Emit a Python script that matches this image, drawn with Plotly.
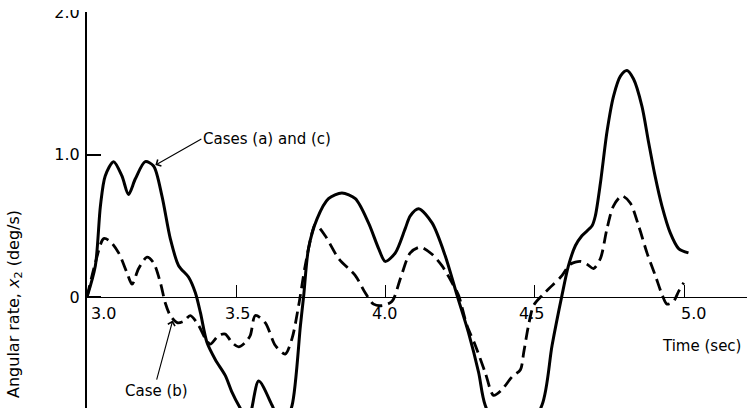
import plotly.graph_objects as go

# Angular rate responses, x2 (deg/s) versus time (sec)
time_ac = [3.000, 3.028, 3.045, 3.061, 3.089, 3.117, 3.139, 3.162, 3.195, 3.223,
           3.251, 3.279, 3.307, 3.340, 3.363, 3.380, 3.402, 3.430, 3.463, 3.486,
           3.508, 3.540, 3.575, 3.620, 3.655, 3.687, 3.715, 3.726, 3.742, 3.771,
           3.809, 3.854, 3.899, 3.943, 3.977, 3.999, 4.033, 4.066, 4.083, 4.111,
           4.156, 4.200, 4.240, 4.278, 4.312, 4.334, 4.420, 4.524, 4.558, 4.591,
           4.613, 4.636, 4.658, 4.692, 4.703, 4.720, 4.742, 4.764, 4.787, 4.809,
           4.831, 4.859, 4.881, 4.903, 4.926, 4.954, 4.982, 5.015]
rate_ac = [0.00, 0.22, 0.64, 0.85, 0.95, 0.85, 0.72, 0.83, 0.95, 0.92,
           0.71, 0.41, 0.22, 0.14, 0.03, -0.11, -0.32, -0.44, -0.55, -0.67,
           -0.76, -0.86, -0.59, -0.76, -0.92, -0.76, -0.20, 0.01, 0.34, 0.55,
           0.69, 0.73, 0.69, 0.52, 0.34, 0.25, 0.31, 0.48, 0.57, 0.62,
           0.52, 0.29, 0.01, -0.25, -0.53, -0.76, -1.10, -0.76, -0.34, 0.01,
           0.22, 0.36, 0.43, 0.50, 0.57, 0.80, 1.16, 1.41, 1.55, 1.59,
           1.53, 1.34, 1.09, 0.85, 0.64, 0.45, 0.34, 0.31]

time_b = [3.000, 3.028, 3.056, 3.078, 3.106, 3.134, 3.151, 3.173, 3.201, 3.223,
          3.246, 3.262, 3.279, 3.302, 3.324, 3.346, 3.374, 3.396, 3.413, 3.441,
          3.463, 3.486, 3.508, 3.530, 3.547, 3.564, 3.597, 3.631, 3.664, 3.687,
          3.709, 3.731, 3.754, 3.765, 3.798, 3.843, 3.899, 3.932, 3.960, 3.989,
          4.022, 4.050, 4.083, 4.117, 4.156, 4.189, 4.223, 4.245, 4.273, 4.301,
          4.334, 4.362, 4.390, 4.424, 4.452, 4.463, 4.479, 4.496, 4.524, 4.558,
          4.591, 4.619, 4.653, 4.675, 4.697, 4.720, 4.742, 4.764, 4.792, 4.820,
          4.848, 4.876, 4.904, 4.926, 4.943, 4.965, 4.982, 4.999]
rate_b = [0.00, 0.24, 0.41, 0.39, 0.31, 0.17, 0.09, 0.20, 0.28, 0.24,
          0.10, -0.04, -0.13, -0.18, -0.17, -0.13, -0.20, -0.29, -0.33, -0.27,
          -0.26, -0.32, -0.35, -0.32, -0.27, -0.13, -0.18, -0.34, -0.40, -0.29,
          -0.06, 0.22, 0.45, 0.51, 0.43, 0.27, 0.15, 0.03, -0.05, -0.06,
          -0.03, 0.13, 0.31, 0.35, 0.30, 0.22, 0.10, 0.01, -0.20, -0.34,
          -0.53, -0.69, -0.65, -0.56, -0.51, -0.39, -0.20, -0.06, 0.01, 0.08,
          0.15, 0.23, 0.25, 0.23, 0.20, 0.27, 0.48, 0.64, 0.71, 0.66,
          0.50, 0.31, 0.15, 0.02, -0.05, -0.03, 0.04, 0.10]

x_tick_vals = [3.0, 3.5, 4.0, 4.5, 5.0]
x_tick_text = ["3.0", "3.5", "4.0", "4.5", "5.0"]
y_tick_vals = [0, 1, 2]
y_tick_text = ["0", "1.0", "2.0"]

# Figure geometry
W, H = 747, 408
ML, MT = 87, 12
PW, PH = W - ML, H - MT
X_RANGE = [3.0, 3.0 + PW / 298.5]
Y_RANGE = [2.0 - PH / 142.5, 2.0005]

FONT = "DejaVu Sans"
INK = "black"


def px_to_paper_x(px):
    return (px - ML) / PW


def px_to_paper_y(py):
    return (H - py) / PH


fig = go.Figure()
fig.add_trace(go.Scatter(
    x=time_ac, y=rate_ac, mode="lines",
    line=dict(color=INK, width=3, shape="spline", smoothing=0.8),
    showlegend=False, hoverinfo="skip"))
fig.add_trace(go.Scatter(
    x=time_b, y=rate_b, mode="lines",
    line=dict(color=INK, width=2.8, dash="12px,6px", shape="spline", smoothing=0.8),
    showlegend=False, hoverinfo="skip"))

zero_pos = (0 - Y_RANGE[0]) / (Y_RANGE[1] - Y_RANGE[0])

fig.update_layout(
    width=W, height=H,
    margin=dict(l=ML, r=0, t=MT, b=0, pad=0),
    paper_bgcolor="white", plot_bgcolor="white",
    font=dict(family=FONT, color=INK, size=15),
    xaxis=dict(range=X_RANGE, anchor="free", position=zero_pos,
               showline=True, linecolor=INK, linewidth=1.3,
               ticks="inside", ticklen=12, tickwidth=1.3, tickcolor=INK,
               tickvals=x_tick_vals[1:], showticklabels=False,
               showgrid=False, zeroline=False, fixedrange=True),
    yaxis=dict(range=Y_RANGE, showline=True, linecolor=INK, linewidth=2,
               ticks="inside", ticklen=14, tickwidth=1.5, tickcolor=INK,
               tickvals=y_tick_vals, ticktext=y_tick_text,
               tickfont=dict(family=FONT, size=16, color=INK),
               ticklabelstandoff=2,
               showgrid=False, zeroline=False, fixedrange=True),
)

# x tick labels sit just below the zero line
x_label_shift = [16, 1, -1, -3, 9]
for v, t, dx in zip(x_tick_vals, x_tick_text, x_label_shift):
    fig.add_annotation(x=v, y=0, xref="x", yref="y", text=t, showarrow=False,
                       xshift=dx, yshift=-16, font=dict(size=16),
                       xanchor="center", yanchor="middle")

fig.add_annotation(x=5.058, y=-0.344, xref="x", yref="y", text="Time (sec)",
                   showarrow=False, font=dict(size=15),
                   xanchor="center", yanchor="middle")

fig.add_annotation(x=px_to_paper_x(14), y=px_to_paper_y(304),
                   xref="paper", yref="paper",
                   text="Angular rate, <i>x</i><sub>2</sub> (deg/s)",
                   textangle=-90, showarrow=False, font=dict(size=16),
                   xanchor="center", yanchor="middle")

# Curve call-outs: the arrow leaves the edge of each label
fig.add_annotation(x=3.229, y=0.926, xref="x", yref="y", text="Cases (a) and (c)",
                   showarrow=True, ax=46, ay=-26, xanchor="left", yanchor="middle",
                   arrowhead=4, arrowsize=1.3, arrowwidth=1.1, arrowcolor=INK,
                   standoff=0, font=dict(size=15))
fig.add_annotation(x=3.287, y=-0.165, xref="x", yref="y", text="Case (b)",
                   showarrow=True, ax=-16, ay=59, xanchor="center", yanchor="top",
                   arrowhead=4, arrowsize=1.3, arrowwidth=1.1, arrowcolor=INK,
                   standoff=0, font=dict(size=15))

# The top of the "2.0" label is trimmed by the page edge
fig.add_shape(type="rect", xref="paper", yref="paper", layer="above",
              x0=px_to_paper_x(40), x1=px_to_paper_x(85),
              y0=px_to_paper_y(10), y1=px_to_paper_y(-10),
              fillcolor="white", line=dict(width=0))

fig.write_html("out.html")
